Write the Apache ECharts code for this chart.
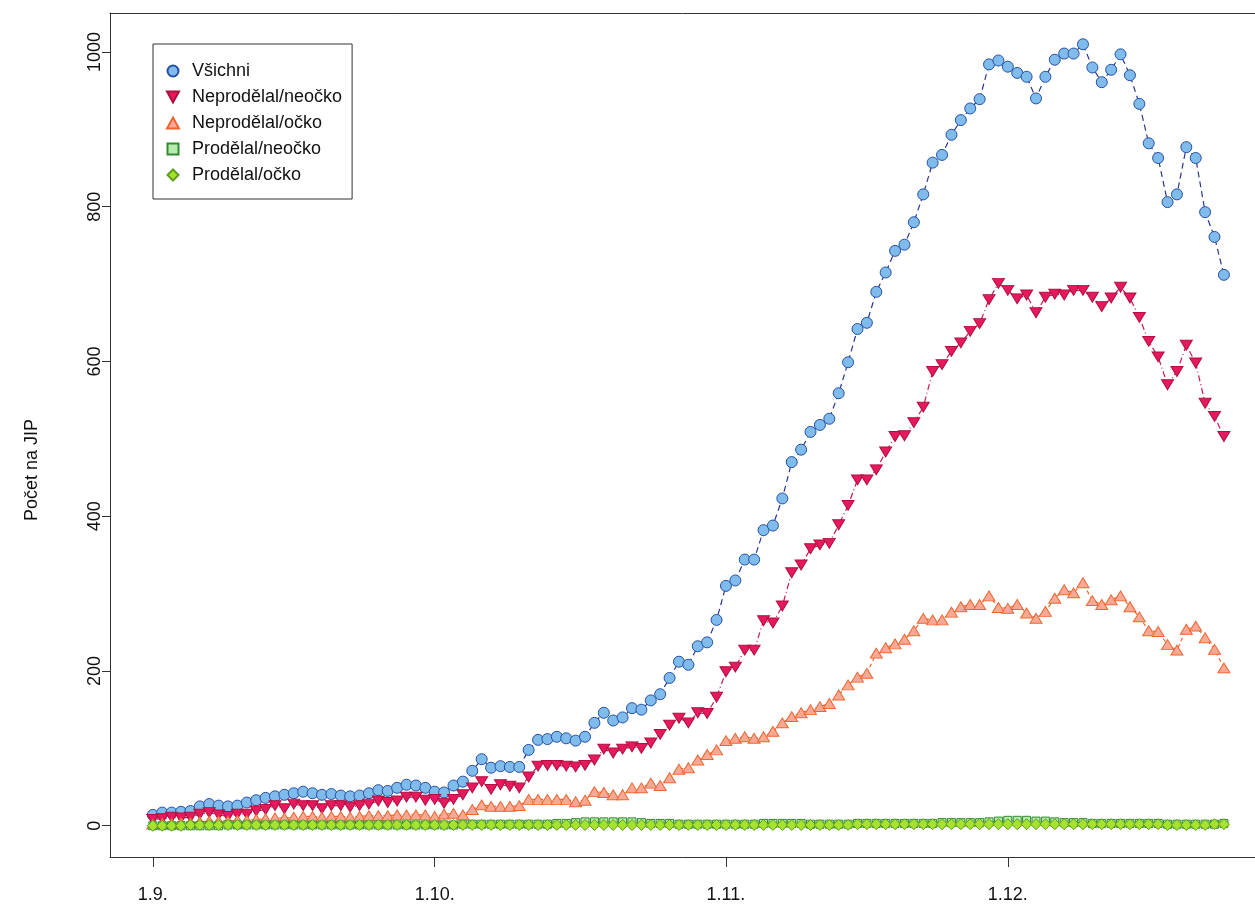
<!DOCTYPE html>
<html><head><meta charset="utf-8">
<script src="https://cdn.jsdelivr.net/npm/echarts@6/dist/echarts.min.js"></script>
<style>html,body{margin:0;padding:0;background:#fff;overflow:hidden}#c{width:1255px;height:909px}</style>
</head><body><div id="c"></div>
<script>
// x = day index counted from 1.9.
const tickDays = [0, 30, 61, 91];
const tickLabels = ['1.9.', '1.10.', '1.11.', '1.12.'];
const yTicks = [0, 200, 400, 600, 800, 1000];
const seriesNames = ['Všichni', 'Neprodělal/neočko', 'Neprodělal/očko', 'Prodělal/neočko', 'Prodělal/očko'];

const vsichni = [14,17,17,18,19,25,28,26,25,26, 30,33,36,38,40,42,44,42,40,41, 39,38,39,42,46,45,49,53,52,49,
  44,43,52,57,71,86,75,77,76,76, 98,111,112,115,113,110,115,133,146,136, 140,152,150,162,170,191,212,208,232,237,
  266,310,317,344,344,382,388,423,470,486, 509,518,526,559,599,642,650,690,715,743, 751,780,816,857,867,893,912,927,939,984,
  989,981,973,968,940,968,990,998,998,1010, 980,961,977,997,970,933,882,863,806,816, 877,863,793,761,712];
const neprNeocko = [8,9,11,10,11,15,17,14,12,15, 15,19,21,26,22,28,26,26,22,26, 26,24,26,28,32,30,32,37,37,33,
  34,29,34,40,49,57,47,53,51,49, 63,77,78,78,77,76,78,85,99,94, 99,102,100,107,118,130,139,133,146,145,
  166,199,205,227,227,265,262,284,327,337, 358,363,365,389,414,447,447,460,483,503, 504,521,541,587,596,613,624,639,649,680,
  701,692,681,686,663,683,687,686,692,692, 683,671,682,696,682,657,626,606,570,587, 621,598,546,529,503];
const neprOcko = [2,3,3,4,4,5,6,6,6,7, 7,8,9,10,10,11,12,12,11,12, 12,11,12,13,13,13,14,14,14,14,
  12,15,16,14,21,27,25,25,25,26, 34,34,34,34,34,31,33,44,43,40, 40,49,49,55,52,62,73,75,85,92,
  98,110,113,115,113,115,122,133,141,146, 150,154,158,169,182,192,197,223,230,235, 241,252,268,266,266,276,283,286,286,297,
  282,281,286,275,268,277,294,305,301,314, 291,286,292,297,283,270,252,251,234,227, 254,258,243,228,204];
const prodNeocko = [0,0,0,0,0,0,0,0,1,1, 1,1,1,1,1,1,1,1,1,1, 1,1,1,1,1,1,1,1,1,1,
  1,1,1,2,2,2,2,2,2,2, 2,2,2,3,3,4,5,5,5,5, 5,5,4,3,3,3,2,2,2,2,
  2,2,2,2,2,3,3,3,3,3, 2,2,2,2,2,3,3,3,3,3, 3,3,3,3,4,4,4,4,4,5,
  6,7,7,7,6,6,5,4,4,4, 3,3,3,3,3,3,3,3,2,2, 2,2,2,2,3];
const prodOcko = [0,0,0,0,1,1,1,1,1,1, 1,1,1,1,1,1,1,1,1,1, 1,1,1,1,1,1,1,1,1,1,
  1,1,1,1,1,1,1,1,1,1, 1,1,1,1,1,1,1,1,1,1, 1,1,1,1,1,1,1,1,1,1,
  1,1,1,1,1,1,1,1,1,1, 1,1,1,1,1,2,2,2,2,2, 2,2,2,2,2,2,2,2,2,2,
  2,2,2,2,2,2,2,2,2,2, 2,2,2,2,2,2,2,2,1,1, 1,1,1,2,2];

const FONT = "'Liberation Sans', Arial, Helvetica, sans-serif";
const ICON = {
  circle: 'circle',
  down: 'path://M0,0L10,0L5,9Z',
  up: 'path://M5,0L10,9L0,9Z',
  square: 'path://M0,0L10,0L10,10L0,10Z',
  diamond: 'path://M5,0L10,5L5,10L0,5Z'
};
const styles = [
  {data: vsichni, symbol: ICON.circle, size: 11, fill: '#7fbceb', border: '#2650a6', line: '#2a3590', dash: [6, 4]},
  {data: neprNeocko, symbol: ICON.down, size: [12, 11], fill: '#e6185e', border: '#b0103e', line: '#c2185b', dash: [1, 3, 6, 3]},
  {data: neprOcko, symbol: ICON.up, size: [12, 11], fill: '#f8a996', border: '#f0652f', line: '#f0652f', dash: [4, 3]},
  {data: prodNeocko, symbol: ICON.square, size: 8, fill: '#b8eab0', border: '#2e8b2e', line: '#2e8b2e', dash: [2, 3]},
  {data: prodOcko, symbol: ICON.diamond, size: 11, fill: '#a6e22e', border: '#5e9e1a', line: '#5e9e1a', dash: [6, 2, 2, 2]}
];

const series = styles.map((s, k) => ({
  name: seriesNames[k],
  type: 'line',
  data: s.data.map((v, i) => [i, v]),
  symbol: s.symbol,
  symbolSize: s.size,
  symbolKeepAspect: true,
  showSymbol: true,
  itemStyle: {color: s.fill, borderColor: s.border, borderWidth: 1},
  lineStyle: {color: s.line, width: 1.2, type: s.dash},
  emphasis: {disabled: true},
  silent: true,
  animation: false
}));

const frameLine = {show: true, onZero: false, lineStyle: {color: '#333', width: 1}};

const chart = echarts.init(document.getElementById('c'), null, {renderer: 'canvas'});
chart.setOption({
  backgroundColor: '#fff',
  animation: false,
  grid: {left: 110, right: 0, top: 13, bottom: 52, show: false},
  xAxis: [{
    type: 'value', min: -4.56, max: 117.31,
    splitLine: {show: false},
    axisLine: frameLine,
    axisTick: {show: true, length: 10, lineStyle: {color: '#333'}, customValues: tickDays},
    axisLabel: {show: true, margin: 29, fontSize: 18, color: '#111', fontFamily: FONT,
      customValues: tickDays,
      formatter: v => tickLabels[tickDays.indexOf(Math.round(v))] || ''}
  }, {
    type: 'value', position: 'top', min: -4.56, max: 117.31,
    splitLine: {show: false}, axisLine: frameLine,
    axisTick: {show: false}, axisLabel: {show: false}
  }],
  yAxis: {
    type: 'value', min: -40.4, max: 1050.4,
    splitLine: {show: false},
    axisLine: frameLine,
    axisTick: {show: true, length: 8, lineStyle: {color: '#333'}, customValues: yTicks},
    axisLabel: {show: true, rotate: 90, margin: 6, fontSize: 18, color: '#111', fontFamily: FONT,
      customValues: yTicks, formatter: v => String(v)}
  },
  legend: {
    left: 153, top: 44, orient: 'vertical',
    padding: [18, 10, 15, 13],
    itemGap: 8, itemWidth: 12, itemHeight: 11,
    borderColor: '#333', borderWidth: 1, backgroundColor: '#fff',
    textStyle: {fontSize: 18, lineHeight: 18, color: '#111', fontFamily: FONT, padding: [0, 0, 0, 8]},
    selectedMode: false,
    data: [
      {name: seriesNames[0], icon: ICON.circle},
      {name: seriesNames[1], icon: ICON.down},
      {name: seriesNames[2], icon: ICON.up},
      {name: seriesNames[3], icon: ICON.square},
      {name: seriesNames[4], icon: ICON.diamond}
    ]
  },
  graphic: [{
    type: 'text', x: 32, y: 470, rotation: Math.PI / 2,
    style: {text: 'Počet na JIP', fontSize: 18, fontFamily: FONT, fill: '#111', textAlign: 'center', textVerticalAlign: 'middle'}
  }],
  series: series
});
</script>
</body></html>
